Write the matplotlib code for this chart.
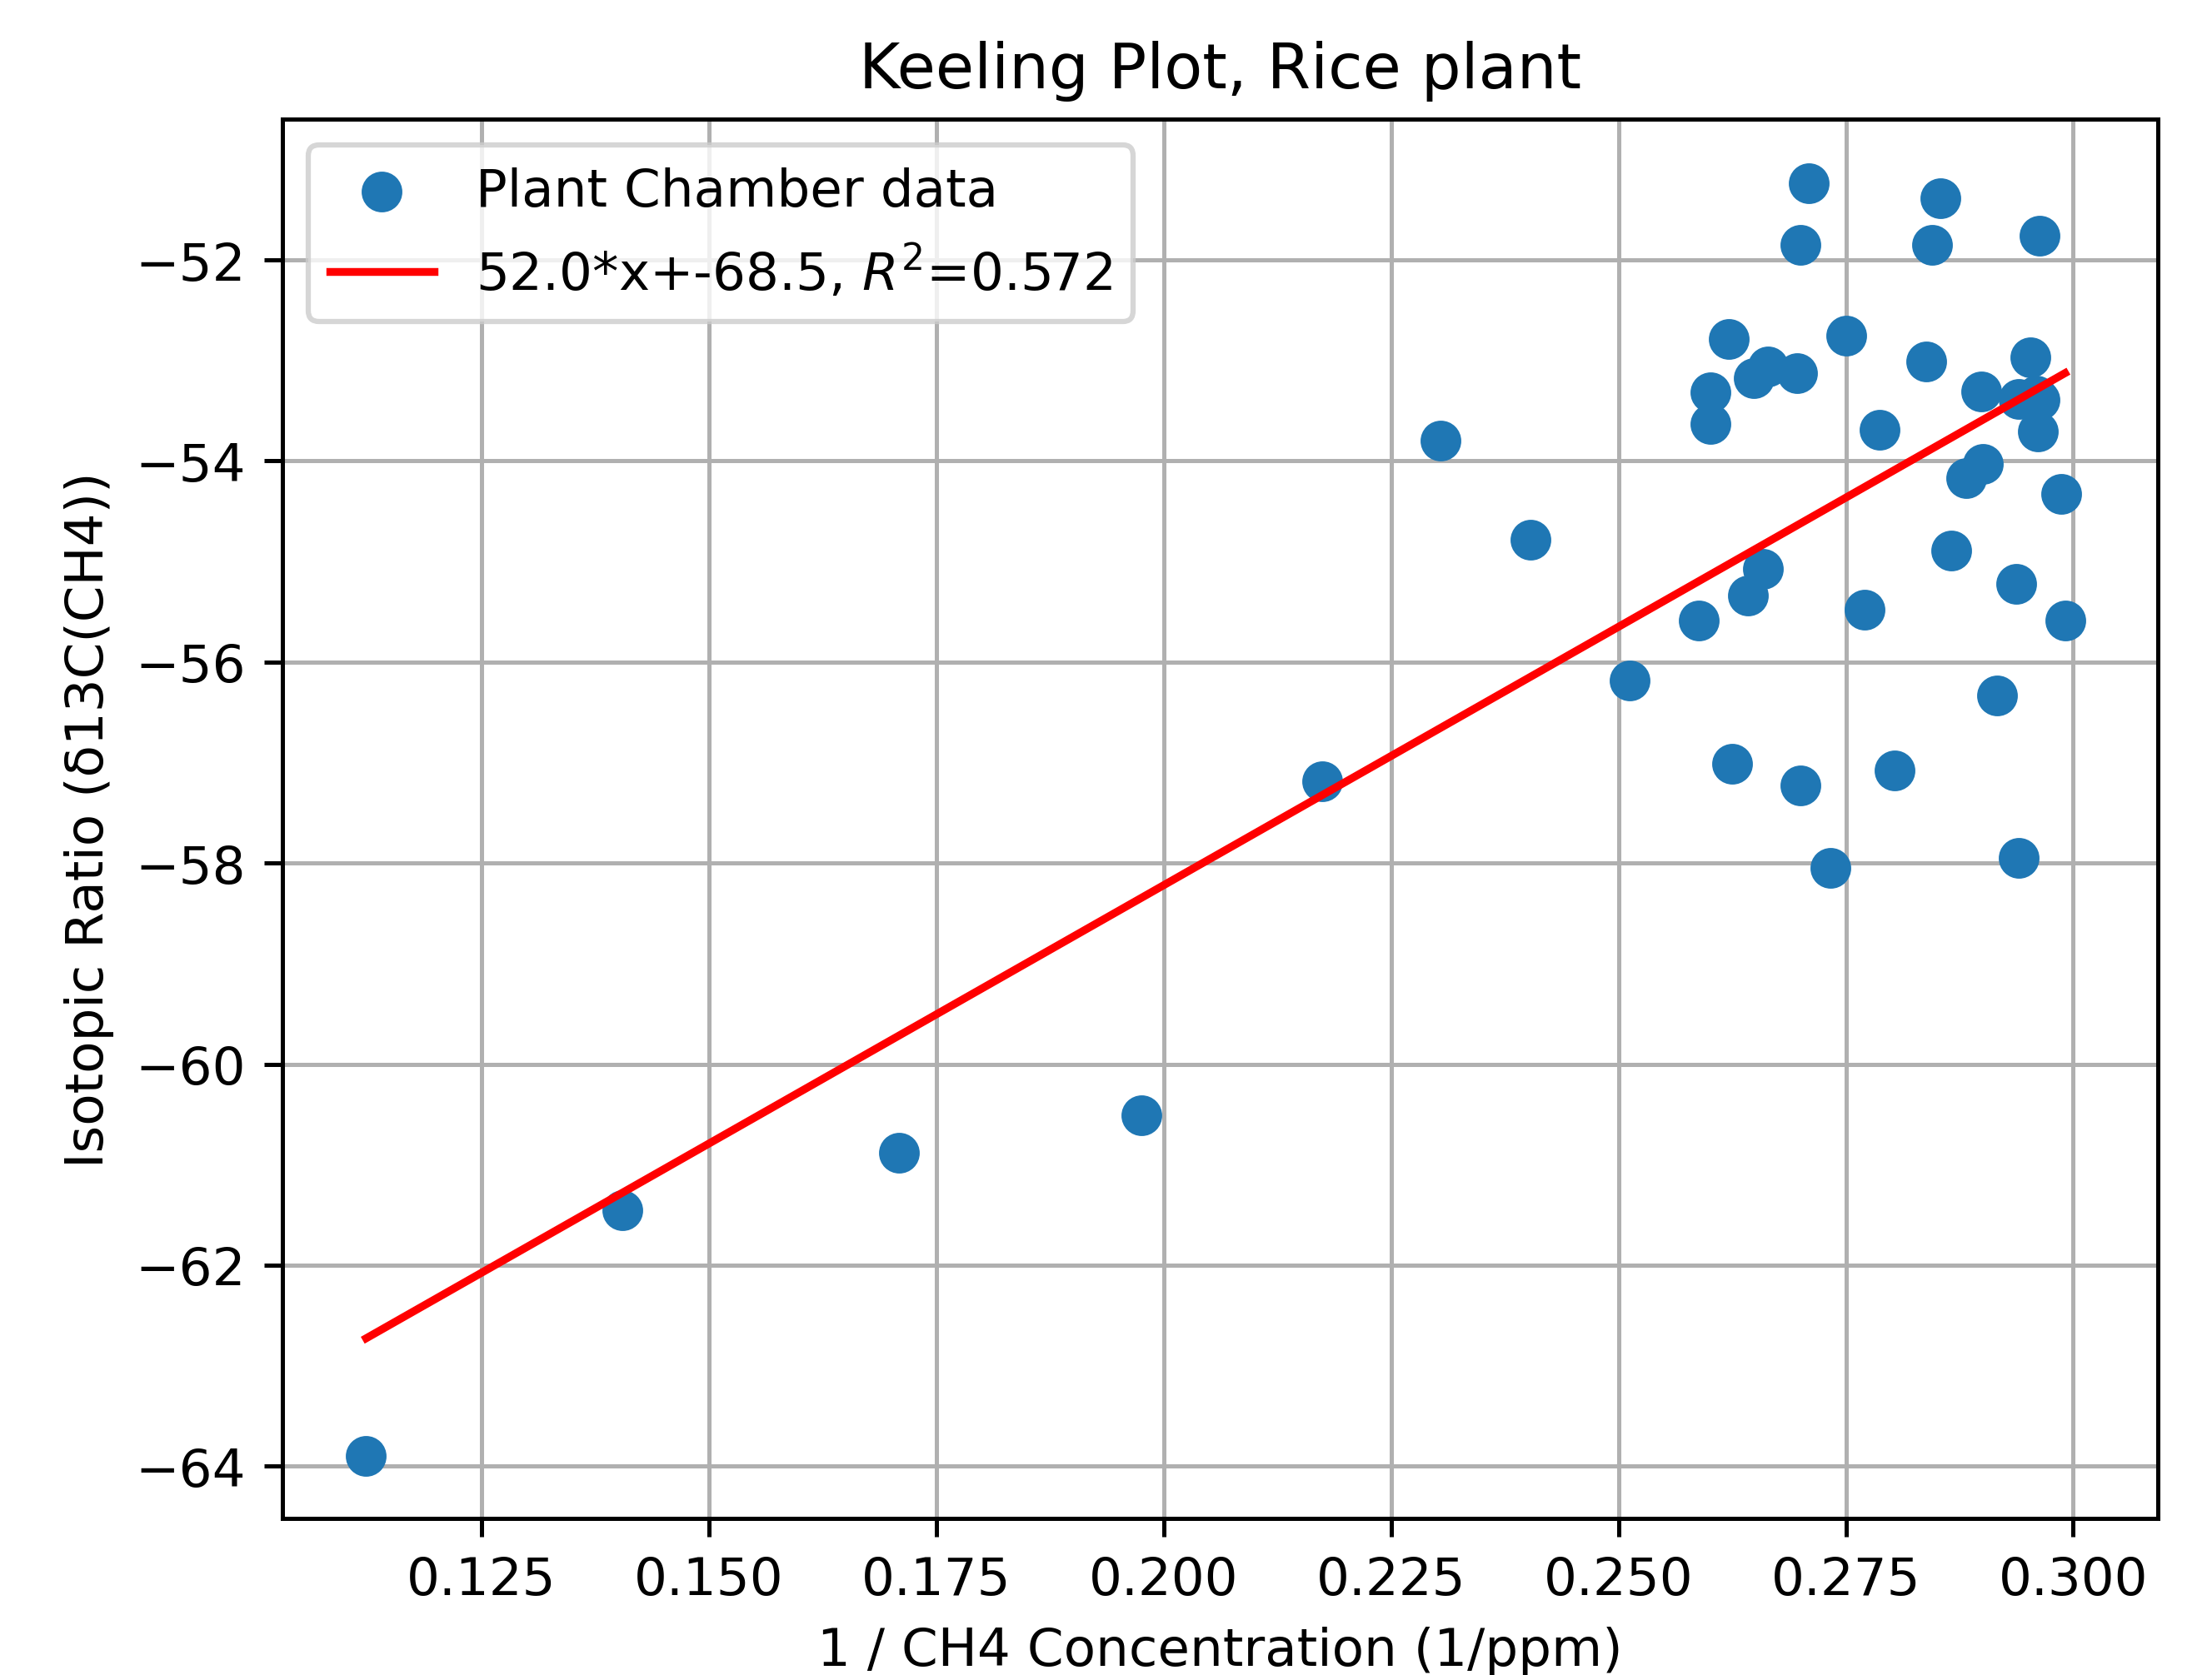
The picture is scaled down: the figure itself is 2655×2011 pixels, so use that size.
import matplotlib
matplotlib.use('Agg')
import matplotlib.pyplot as plt
import numpy as np

# 1 / CH4 concentration (1/ppm)
inv_ch4 = [
    0.1123, 0.1405, 0.1709, 0.1975, 0.2174, 0.2304, 0.2403, 0.2512,
    0.2588, 0.2601, 0.2601, 0.2621, 0.2625, 0.2642, 0.2649, 0.2659,
    0.2664, 0.2696, 0.2700, 0.2700, 0.2709, 0.2733, 0.2750, 0.2771,
    0.2787, 0.2804, 0.2838, 0.2845, 0.2854, 0.2866, 0.2882, 0.2899,
    0.2901, 0.2916, 0.2937, 0.2940, 0.2940, 0.2953, 0.2959, 0.2961,
    0.2963, 0.2963, 0.2987, 0.2991,
]
# delta 13C of CH4
d13c = [
    -63.90, -61.45, -60.88, -60.51, -57.19, -53.80, -54.78, -56.18,
    -55.59, -53.32, -53.63, -52.79, -57.01, -55.34, -53.18, -55.07,
    -53.06, -53.13, -51.85, -57.23, -51.24, -58.05, -52.75, -55.48,
    -53.69, -57.08, -53.01, -51.85, -51.39, -54.89, -54.17, -53.31,
    -54.03, -56.33, -55.22, -57.95, -53.38, -52.97, -53.35, -53.71,
    -51.76, -53.39, -54.33, -55.59,
]

# fit as printed in the legend
slope = 52.0
intercept = -68.5
r2 = 0.572
# the drawn red line is a touch flatter than the rounded legend numbers
line_slope = 51.4
line_intercept = -68.5

DPI = 452  # text in the screenshot is a bit larger than default
fig = plt.figure(figsize=(2655 / DPI, 2012 / DPI), dpi=DPI)
ax = fig.add_axes([0.1277, 0.0934, 0.8478, 0.835])

ax.scatter(inv_ch4, d13c, s=46, color='#1f77b4', label='Plant Chamber data', zorder=3)
xs = np.array([min(inv_ch4), max(inv_ch4)])
ax.plot(xs, line_slope * xs + line_intercept, color='red', zorder=4,
        label=f'{slope:.1f}*x+{intercept:.1f}, $R^2$={r2:.3f}')

ax.set_xlim(0.1031, 0.3093)
ax.set_ylim(-64.52, -50.60)
ax.set_xticks([0.125, 0.150, 0.175, 0.200, 0.225, 0.250, 0.275, 0.300])
ax.set_yticks([-64, -62, -60, -58, -56, -54, -52])
ax.grid(True)
ax.set_axisbelow(True)

ax.set_title('Keeling Plot, Rice plant')
ax.set_xlabel('1 / CH4 Concentration (1/ppm)')
ax.set_ylabel('Isotopic Ratio (δ13C(CH4))')
ax.legend(loc='upper left')

fig.savefig('out.png', dpi=DPI)
